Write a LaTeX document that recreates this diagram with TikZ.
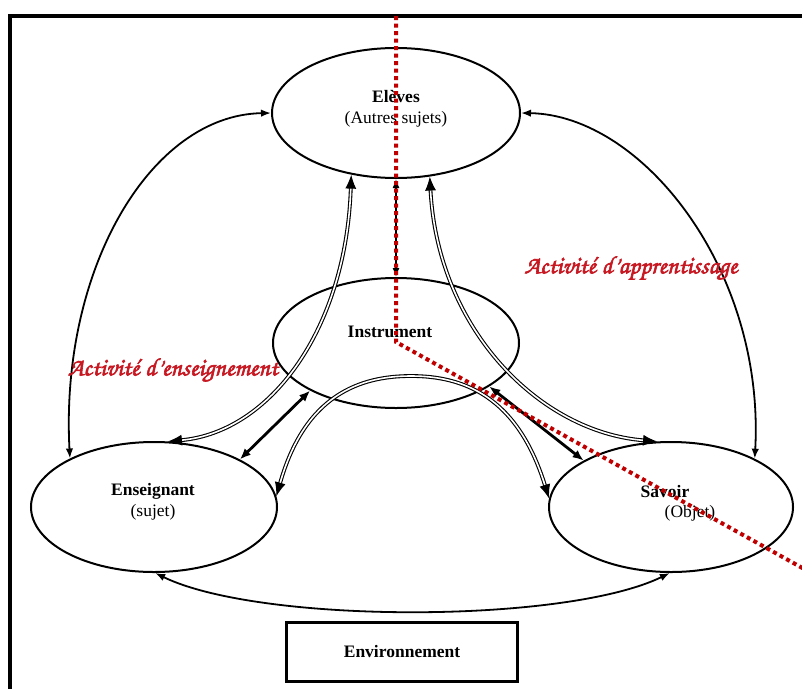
\documentclass[tikz,border=0pt]{standalone}
\usepackage{fontspec}
\setmainfont{Liberation Serif}
\newfontfamily\myscriptfam[FakeBold=2.5]{texgyrechorus-mediumitalic.otf}
\usetikzlibrary{shapes.geometric,arrows.meta}
\definecolor{dotred}{RGB}{192,0,0}
\definecolor{txtred}{RGB}{200,25,35}
\tikzset{
  ell/.style={ellipse, draw, line width=2pt, inner sep=0pt},
  lbl/.style={font=\fontsize{17.5}{21}\selectfont, align=center, inner sep=0pt},
  thinarr/.style={line width=1.8pt, {Latex[length=10pt,width=7.5pt]}-{Latex[length=10pt,width=7.5pt]}},
  thickarr/.style={line width=2.8pt, {Latex[length=11pt,width=9pt]}-{Latex[length=11pt,width=9pt]}},
  dblarr/.style={double, double distance=1.6pt, line width=1.1pt, {Latex[length=14pt,width=11pt]}-{Latex[length=14pt,width=11pt]}},
  actlbl/.style={text=txtred, font=\fontsize{25}{28}\myscriptfam\bfseries, inner sep=0pt},
  reddots/.style={draw=dotred, line width=4pt, dash pattern=on 4pt off 3.5pt}
}
\begin{document}
\begin{tikzpicture}[x=1pt,y=-1pt]
\useasboundingbox (0,0) rectangle (802,688);
% frame
\draw[line width=3.5pt] (10,700) -- (10,16) -- (820,16);
% ellipses
\node[ell, minimum width=248pt, minimum height=130pt] (el) at (396,113) {};
\node[ell, minimum width=246pt, minimum height=130pt] (ins) at (396,343) {};
\node[ell, minimum width=246pt, minimum height=130pt] (ens) at (154,507) {};
\node[ell, minimum width=244pt, minimum height=130pt] (sav) at (671,507) {};
\node[draw, line width=2.4pt, minimum width=231pt, minimum height=59pt, lbl] (env) at (402,652) {\textbf{Environnement}};
% labels
\node[lbl] (tel) at (396,109) {\textbf{Elèves}\\(Autres sujets)};
\node[lbl] (tins) at (390,332) {\textbf{Instrument}};
\node[lbl] (tens) at (153,502) {\textbf{Enseignant}\\(sujet)};
\node[lbl] (tsav) at (665,492) {\textbf{Savoir}};
\node[lbl] (tobj) at (690,513) {(Objet)};
% connectors
\draw[thinarr] (ens.150) .. controls (60,270) and (150,115) .. (el.west);
\draw[thinarr] (sav.30) .. controls (765,270) and (642,115) .. (el.east);
\draw[thinarr] (ens.-89) .. controls (260,624) and (565,624) .. (sav.-91);
\draw[line width=1.4pt, {Latex[length=9pt,width=7pt]}-{Latex[length=9pt,width=7pt]}] (el.south) -- (ins.north);
\draw[dblarr] (el.234) .. controls (346,330) and (270,432) .. (ens.78);
\draw[dblarr] (el.298) .. controls (438,330) and (540,432) .. (sav.102);
\draw[dblarr] (ens.5) .. controls (305,395) and (360,376) .. (411,376) .. controls (462,376) and (517,395) .. (sav.176);
\draw[thickarr] (ins.209) -- (ens.29);
\draw[thickarr] (ins.335) -- (sav.152);
% activity labels
\node[actlbl] (aens) at (173,370) {Activité d’enseignement};
\node[actlbl] (aapp) at (631,268) {Activité d’apprentissage};
% red dotted separator
\coordinate (r1) at (396,16);
\coordinate (r2) at (396,342);
\coordinate (r3) at (806,570);
\draw[reddots] (r1) -- (r2) -- (r3);
\end{tikzpicture}
\end{document}
